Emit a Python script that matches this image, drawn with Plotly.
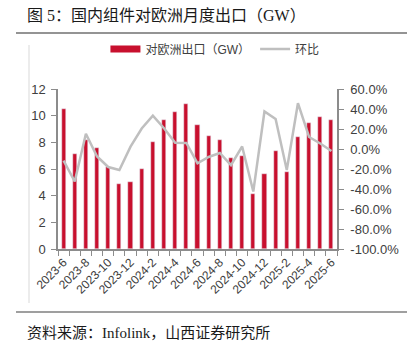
import plotly.graph_objects as go

months = ["2023-6", "2023-7", "2023-8", "2023-9", "2023-10", "2023-11", "2023-12",
          "2024-1", "2024-2", "2024-3", "2024-4", "2024-5", "2024-6", "2024-7",
          "2024-8", "2024-9", "2024-10", "2024-11", "2024-12", "2025-1", "2025-2",
          "2025-3", "2025-4", "2025-5", "2025-6"]
exports_gw = [10.5, 7.1, 8.2, 7.6, 6.15, 4.87, 5.0, 6.0, 8.0, 9.7, 10.3, 10.9, 9.3, 8.5,
              8.2, 6.85, 7.0, 4.1, 5.6, 7.33, 5.78, 8.43, 9.43, 9.9, 9.68]
mom_pct = [-11.7, -32.5, 15.3, -7.5, -18.0, -21.0, 2.3, 20.5, 33.3, 20.8, 6.3, 6.0, -14.3,
           -8.0, -4.0, -16.2, 2.5, -42.5, 37.5, 30.0, -21.0, 45.8, 12.0, 5.5, -2.0]
left_ticks = [0, 2, 4, 6, 8, 10, 12]
right_ticks = [-100, -80, -60, -40, -20, 0, 20, 40, 60]
right_ticktext = ["-100.0%", "-80.0%", "-60.0%", "-40.0%", "-20.0%", "0.0%", "20.0%", "40.0%", "60.0%"]

RED = "#C8102E"
GRAY = "#BFBFBF"
AX = "#8C8C8C"
TXT = "#404040"

x = list(range(len(months)))

fig = go.Figure()
fig.add_trace(go.Bar(x=x, y=exports_gw, marker_color=RED, width=0.37, showlegend=False,
                     yaxis="y"))
fig.add_trace(go.Scatter(x=x, y=mom_pct, mode="lines", line=dict(color=GRAY, width=2.5),
                         showlegend=False, yaxis="y2"))
# legend entries
fig.add_trace(go.Scatter(x=[None], y=[None], mode="lines", line=dict(color=RED, width=7),
                         name="对欧洲出口（GW）"))
fig.add_trace(go.Scatter(x=[None], y=[None], mode="lines", line=dict(color=GRAY, width=2.5),
                         name="环比"))

font_main = "Liberation Sans, Arial, Noto Sans CJK SC, sans-serif"

fig.update_layout(
    width=411, height=347,
    margin=dict(l=58, r=74, t=89, b=98),
    paper_bgcolor="white", plot_bgcolor="white",
    font=dict(family=font_main, size=12, color=TXT),
    bargap=0,
    xaxis=dict(
        range=[-0.5, len(months) - 0.5],
        tickmode="array", tickvals=x[::2], ticktext=months[::2],
        tickangle=-45, ticks="", showgrid=False, zeroline=False,
        showline=True, linecolor=AX, linewidth=1.5,
        minor=dict(tickmode="linear", tick0=0.5, dtick=1, ticks="outside",
                   ticklen=5, tickcolor=AX, tickwidth=1, showgrid=False),
        tickfont=dict(size=12, color=TXT),
    ),
    yaxis=dict(
        range=[0, 12], tickmode="array", tickvals=left_ticks,
        showgrid=False, zeroline=False, showline=True, linecolor=AX, linewidth=1.5,
        ticks="outside", ticklen=5, tickcolor=AX, tickfont=dict(size=13, color=TXT),
        ticklabelstandoff=3,
    ),
    yaxis2=dict(
        range=[-100, 60], overlaying="y", side="right",
        tickmode="array", tickvals=right_ticks, ticktext=right_ticktext,
        showgrid=False, zeroline=False, showline=True, linecolor=AX, linewidth=1.5,
        ticks="outside", ticklen=5, tickcolor=AX, tickfont=dict(size=13, color=TXT),
        ticklabelstandoff=4,
    ),
    legend=dict(orientation="h", x=0.17, y=1.25, xanchor="left", yanchor="middle",
                font=dict(size=12, color=TXT), bgcolor="rgba(0,0,0,0)",
                itemwidth=30, tracegroupgap=0),
)

fig.add_annotation(text="图 5：国内组件对欧洲月度出口（GW）", xref="paper", yref="paper",
                   x=-(58 - 25) / 279, y=1 + (89 - 15) / 160, xanchor="left", yanchor="middle",
                   showarrow=False,
                   font=dict(family="Liberation Serif, Noto Sans CJK SC, serif", size=16, color="#1a1a1a"))
fig.add_annotation(text="资料来源：Infolink，山西证券研究所", xref="paper", yref="paper",
                   x=-(58 - 25) / 279, y=-(333 - 249) / 160, xanchor="left", yanchor="middle",
                   showarrow=False,
                   font=dict(family="Liberation Serif, Noto Sans CJK SC, serif", size=15, color="#1a1a1a"))

def px_x(p):
    return (p - 58) / 279

def px_y(p):
    return (249 - p) / 160

fig.add_shape(type="line", xref="paper", yref="paper", x0=px_x(16), x1=px_x(407),
              y0=px_y(33), y1=px_y(33), line=dict(color="#707070", width=1.5))
fig.add_shape(type="line", xref="paper", yref="paper", x0=px_x(16), x1=px_x(407),
              y0=px_y(312), y1=px_y(312), line=dict(color="#404040", width=1.2))
fig.add_shape(type="line", xref="paper", yref="paper", x0=px_x(29), x1=px_x(29),
              y0=px_y(45), y1=px_y(303), line=dict(color="#D9D9D9", width=1))

fig.write_html("out.html")
